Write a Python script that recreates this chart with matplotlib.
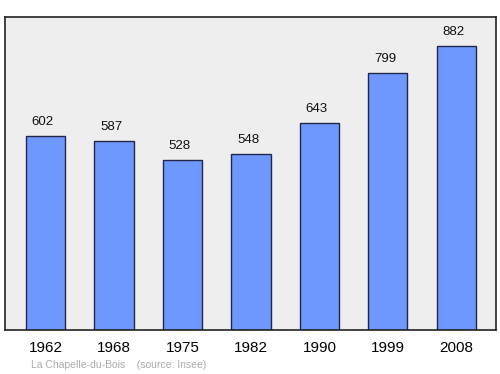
import matplotlib
matplotlib.use("Agg")
import matplotlib.pyplot as plt

years = ["1962", "1968", "1975", "1982", "1990", "1999", "2008"]
population = [602, 587, 528, 548, 643, 799, 882]

fig = plt.figure(figsize=(5, 3.74), dpi=100)
ax = fig.add_axes([0.01, 0.1176, 0.982, 0.8369])
ax.set_facecolor("#eeeeee")
x = list(range(len(years)))
ax.bar(x, population, width=0.57, color="#6f98ff", edgecolor="#22264a", linewidth=1.0, zorder=2)
for xi, v in zip(x, population):
    ax.text(xi - 0.04, v + 25, str(v), ha="center", va="bottom", fontsize=9.5, color="#111111",
            family="Liberation Sans")
ax.set_xlim(-0.591, 6.577)
ax.set_ylim(0, 972)
ax.set_yticks([])
ax.set_xticks(x)
ax.set_xticklabels(years, fontsize=11, family="Liberation Sans")
ax.tick_params(axis="x", length=0, pad=8)
for s in ax.spines.values():
    s.set_linewidth(1.2)
    s.set_color("#222222")
fig.text(0.062, 0.012, "La Chapelle-du-Bois    (source: Insee)", fontsize=7.5, color="#aaaaaa",
         family="Liberation Sans", ha="left", va="bottom")
fig.savefig("out.png", dpi=100)
